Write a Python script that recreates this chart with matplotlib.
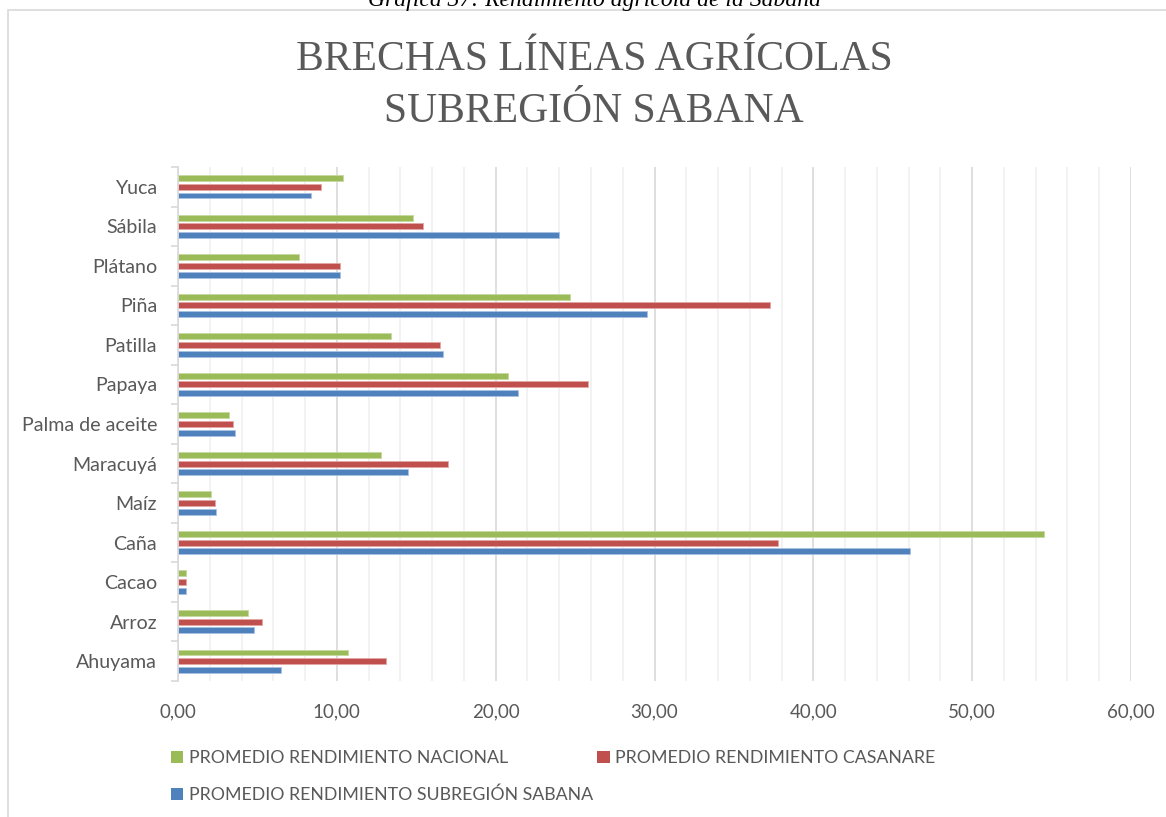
import matplotlib
matplotlib.use("Agg")
import matplotlib.pyplot as plt
import numpy as np
from matplotlib.ticker import MultipleLocator, FuncFormatter, FixedLocator
from matplotlib.patches import Rectangle, Patch

# Crop yields (bottom to top on the chart)
cultivos = ["Ahuyama", "Arroz", "Cacao", "Caña", "Maíz", "Maracuyá",
            "Palma de aceite", "Papaya", "Patilla", "Piña", "Plátano",
            "Sábila", "Yuca"]
nacional = [10.7, 4.4, 0.5, 54.5, 2.1, 12.8, 3.2, 20.8, 13.4, 24.7, 7.6, 14.8, 10.4]
casanare = [13.1, 5.3, 0.5, 37.8, 2.3, 17.0, 3.45, 25.8, 16.5, 37.3, 10.2, 15.4, 9.0]
sabana = [6.5, 4.8, 0.5, 46.1, 2.4, 14.5, 3.6, 21.4, 16.7, 29.5, 10.2, 24.0, 8.4]

series_labels = ["PROMEDIO RENDIMIENTO NACIONAL",
                 "PROMEDIO RENDIMIENTO CASANARE",
                 "PROMEDIO RENDIMIENTO SUBREGIÓN SABANA"]
titulo = "BRECHAS LÍNEAS AGRÍCOLAS\nSUBREGIÓN SABANA"
leyenda_grafica = "Gráfica 37: Rendimiento agrícola de la Sabana"

VERDE, ROJO, AZUL = "#9BBB59", "#C0504D", "#4F81BD"
TEXTO = "#595959"
W, H = 1166, 817

fig = plt.figure(figsize=(W / 100, H / 100), dpi=100)

# chart frame
fig.patches.append(Rectangle((8 / W, -0.05), 1.1, 1.05 - 10 / H,
                             transform=fig.transFigure, fill=False,
                             edgecolor="#d9d9d9", linewidth=1.2))

fig.text(594 / W, 1 - 6 / H, leyenda_grafica, ha="center", va="baseline",
         fontsize=17, style="italic", family="Liberation Serif", color="black")

fig.text(594 / W, 1 - 86 / H, titulo, ha="center", va="center",
         fontsize=30, family="Liberation Serif", color=TEXTO,
         linespacing=1.45)

ax = fig.add_axes([178 / W, 1 - 681 / H, (1131 - 178) / W, (681 - 167) / H])

y = np.arange(len(cultivos))
bh = 0.15
off = 0.22
ax.barh(y + off, nacional, height=bh, color=VERDE, edgecolor="#c4d9a0", linewidth=0.6, label=series_labels[0])
ax.barh(y, casanare, height=bh, color=ROJO, edgecolor="#e3a6a4", linewidth=0.6, label=series_labels[1])
ax.barh(y - off, sabana, height=bh, color=AZUL, edgecolor="#a9c2e3", linewidth=0.6, label=series_labels[2])

ax.set_xlim(0, 60)
ax.set_ylim(-0.5, len(cultivos) - 0.5)

ax.xaxis.set_major_locator(MultipleLocator(10))
ax.xaxis.set_minor_locator(MultipleLocator(2))
ax.xaxis.set_major_formatter(FuncFormatter(lambda v, p: f"{v:.2f}".replace(".", ",")))
ax.set_axisbelow(True)
ax.xaxis.grid(True, which="major", color="#d9d9d9", linewidth=1.2)
ax.xaxis.grid(True, which="minor", color="#f0f0f0", linewidth=1.2)
ax.tick_params(axis="x", which="both", length=0, pad=16, labelsize=13.5, labelcolor=TEXTO)

ax.set_yticks(y)
ax.set_yticklabels(cultivos, family="Lato")
ax.yaxis.set_minor_locator(FixedLocator(np.arange(-0.5, len(cultivos), 1.0)))
ax.tick_params(axis="y", which="major", length=0, pad=15, labelsize=14.1, labelcolor=TEXTO)
ax.tick_params(axis="y", which="minor", length=5, color="#d9d9d9", width=1.2)
for lbl in ax.get_xticklabels():
    lbl.set_family("Lato")

for s in ["top", "right", "bottom"]:
    ax.spines[s].set_visible(False)
ax.spines["left"].set_color("#d9d9d9")
ax.spines["left"].set_linewidth(1.2)

handles = [Patch(facecolor=VERDE), Patch(facecolor=AZUL), Patch(facecolor=ROJO)]
labels = [series_labels[0], series_labels[2], series_labels[1]]
leg = fig.legend(handles, labels, ncol=2, loc="upper left",
                 bbox_to_anchor=(155 / W, 1 - 734 / H), frameon=False,
                 prop={"family": "Lato", "size": 12.8}, labelcolor=TEXTO,
                 handlelength=0.7, handleheight=0.7, handletextpad=0.3,
                 columnspacing=0.25, labelspacing=1.17)

fig.savefig("out.png", dpi=100)
